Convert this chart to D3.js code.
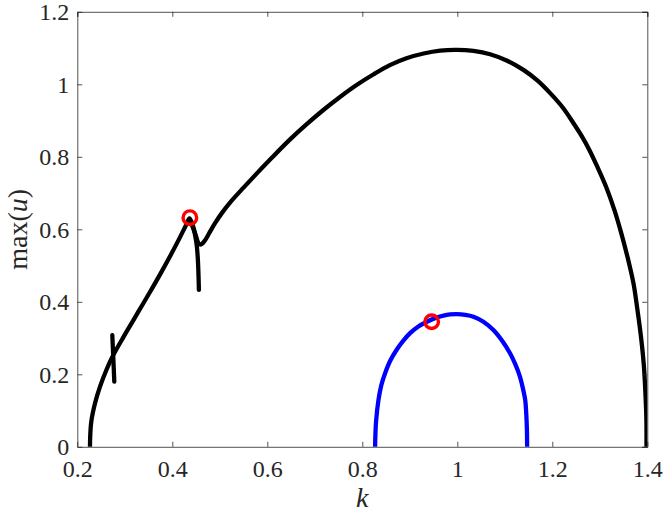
<!DOCTYPE html>
<html>
<head>
<meta charset="utf-8">
<script src="https://cdn.jsdelivr.net/npm/d3@7"></script>
<style>
  body { margin: 0; background: #fff; }
  svg { display: block; }
  svg text { font-family: "Liberation Serif", "DejaVu Serif", serif; }
</style>
</head>
<body>
<div id="chart" style="width:664px;height:513px"></div>
<script>
// main branch (black), k vs max(u)
const mainK = [0.2267, 0.2272, 0.2295, 0.2373, 0.2478, 0.2619, 0.2758, 0.2968, 0.3179, 0.335, 0.353, 0.374, 0.395, 0.415, 0.428, 0.436,
  0.442, 0.449, 0.455, 0.46, 0.468, 0.478, 0.49, 0.505, 0.525, 0.55, 0.58, 0.61, 0.648, 0.683, 0.718, 0.753, 0.788, 0.823, 0.858, 0.893,
  0.929, 0.964, 0.999, 1.034, 1.069, 1.105, 1.14, 1.169, 1.196, 1.222, 1.245, 1.262, 1.278, 1.295, 1.313, 1.331, 1.345, 1.359, 1.371,
  1.379, 1.387, 1.393, 1.396, 1.398, 1.3983];
const mainU = [0, 0.03, 0.07, 0.12, 0.166, 0.214, 0.253, 0.302, 0.349, 0.387, 0.427, 0.475, 0.525, 0.575, 0.609, 0.63,
  0.615, 0.585, 0.562, 0.558, 0.568, 0.59, 0.617, 0.646, 0.679, 0.715, 0.757, 0.798, 0.848, 0.89, 0.929, 0.965, 0.998, 1.027, 1.053, 1.072,
  1.085, 1.093, 1.095, 1.092, 1.083, 1.065, 1.039, 1.01, 0.975, 0.936, 0.892, 0.857, 0.819, 0.772, 0.718, 0.652, 0.59, 0.52, 0.45,
  0.38, 0.3, 0.22, 0.148, 0.08, 0];

// short black pieces
const spike1K = [0.2737, 0.2758, 0.2779];
const spike1U = [0.308, 0.245, 0.18];
const spike2K = [0.438, 0.446, 0.451, 0.4535, 0.455, 0.456];
const spike2U = [0.622, 0.595, 0.56, 0.524, 0.48, 0.433];

// second branch (blue)
const blueK = [0.827, 0.8275, 0.829, 0.834, 0.84, 0.848, 0.859, 0.872, 0.886, 0.9, 0.918, 0.936, 0.953, 0.971, 0.985, 0.999,
  1.017, 1.034, 1.055, 1.076, 1.094, 1.111, 1.122, 1.132, 1.138, 1.143, 1.145, 1.1465, 1.147];
const blueU = [0, 0.03, 0.07, 0.129, 0.17, 0.203, 0.238, 0.267, 0.292, 0.313, 0.332, 0.345, 0.355, 0.362, 0.365, 0.366,
  0.364, 0.359, 0.345, 0.322, 0.293, 0.258, 0.228, 0.193, 0.162, 0.129, 0.095, 0.05, 0];

// marked points (red circles)
const markK = [0.437, 0.946];
const markU = [0.632, 0.345];

const xTicks = [0.2, 0.4, 0.6, 0.8, 1, 1.2, 1.4];
const yTicks = [0, 0.2, 0.4, 0.6, 0.8, 1, 1.2];

const zip = (ks, us) => ks.map((k, i) => ({ k, u: us[i] }));

const el = document.getElementById("chart");
const { clientWidth: width, clientHeight: height } = el;
const margin = { top: 11.8, right: 16.7, bottom: 66.2, left: 77.3 };
const axisColor = "#262626";

const x = d3.scaleLinear().domain([0.2, 1.4]).range([margin.left, width - margin.right]);
const y = d3.scaleLinear().domain([0, 1.2]).range([height - margin.bottom, margin.top]);

const svg = d3.select(el).append("svg").attr("width", width).attr("height", height);

svg.append("clipPath").attr("id", "plot")
  .append("rect")
  .attr("x", margin.left).attr("y", margin.top)
  .attr("width", x(1.4) - x(0.2)).attr("height", y(0) - y(1.2));

const line = d3.line().x((d) => x(d.k)).y((d) => y(d.u)).curve(d3.curveCatmullRom.alpha(0.5));

const plot = svg.append("g").attr("clip-path", "url(#plot)");

const series = [
  { data: zip(mainK, mainU), color: "#000" },
  { data: zip(spike1K, spike1U), color: "#000" },
  { data: zip(spike2K, spike2U), color: "#000" },
  { data: zip(blueK, blueU), color: "#0000ff" },
];

plot.selectAll("path.series")
  .data(series)
  .join("path")
  .attr("class", "series")
  .attr("fill", "none")
  .attr("stroke", (d) => d.color)
  .attr("stroke-width", 4.3)
  .attr("stroke-linejoin", "round")
  .attr("stroke-linecap", "round")
  .attr("d", (d) => line(d.data));

svg.append("g")
  .selectAll("circle")
  .data(zip(markK, markU))
  .join("circle")
  .attr("cx", (d) => x(d.k))
  .attr("cy", (d) => y(d.u))
  .attr("r", 6.8)
  .attr("fill", "none")
  .attr("stroke", "#ff0000")
  .attr("stroke-width", 3.4);

// axes, MATLAB-like box with inward ticks
const fmt = (d) => String(d);

svg.append("g").call(xAxis);
svg.append("g").call(yAxis);

svg.append("g")
  .attr("transform", `translate(0,${margin.top})`)
  .call(d3.axisTop(x).tickValues(xTicks).tickSize(-5).tickFormat(""))
  .call(styleAxis);
svg.append("g")
  .attr("transform", `translate(${width - margin.right},0)`)
  .call(d3.axisRight(y).tickValues(yTicks).tickSize(-5).tickFormat(""))
  .call(styleAxis);

function styleAxis(g) {
  g.attr("font-family", null);
  g.select(".domain").attr("stroke", axisColor).attr("stroke-width", 0.8);
  g.selectAll(".tick line").attr("stroke", axisColor).attr("stroke-width", 0.8);
  g.selectAll(".tick text")
    .attr("fill", axisColor)
    .attr("font-size", 24);
}

function xAxis(g) {
  g.attr("transform", `translate(0,${height - margin.bottom})`)
    .call(d3.axisBottom(x).tickValues(xTicks).tickSize(-5).tickSizeOuter(0).tickFormat(fmt))
    .call(styleAxis)
    .call((g) => g.selectAll(".tick text").attr("y", 30).attr("dy", null))
    .call((g) =>
      g.append("text")
        .attr("x", (x(0.2) + x(1.4)) / 2)
        .attr("y", 60)
        .attr("fill", axisColor)
        .attr("font-style", "italic")
        .attr("font-size", 28)
        .attr("text-anchor", "middle")
        .text("k")
    );
}

function yAxis(g) {
  g.attr("transform", `translate(${margin.left},0)`)
    .call(d3.axisLeft(y).tickValues(yTicks).tickSize(-5).tickSizeOuter(0).tickFormat(fmt))
    .call(styleAxis)
    .call((g) => g.selectAll(".tick text").attr("x", -8).attr("dy", "0.34em"))
    .call((g) => {
      const t = g.append("text")
        .attr("transform", `translate(${27 - margin.left},${(y(0) + y(1.2)) / 2}) rotate(-90)`)
        .attr("fill", axisColor)
        .attr("font-size", 28)
        .attr("text-anchor", "middle");
      t.append("tspan").text("max(");
      t.append("tspan").attr("font-style", "italic").text("u");
      t.append("tspan").text(")");
    });
}
</script>
</body>
</html>
